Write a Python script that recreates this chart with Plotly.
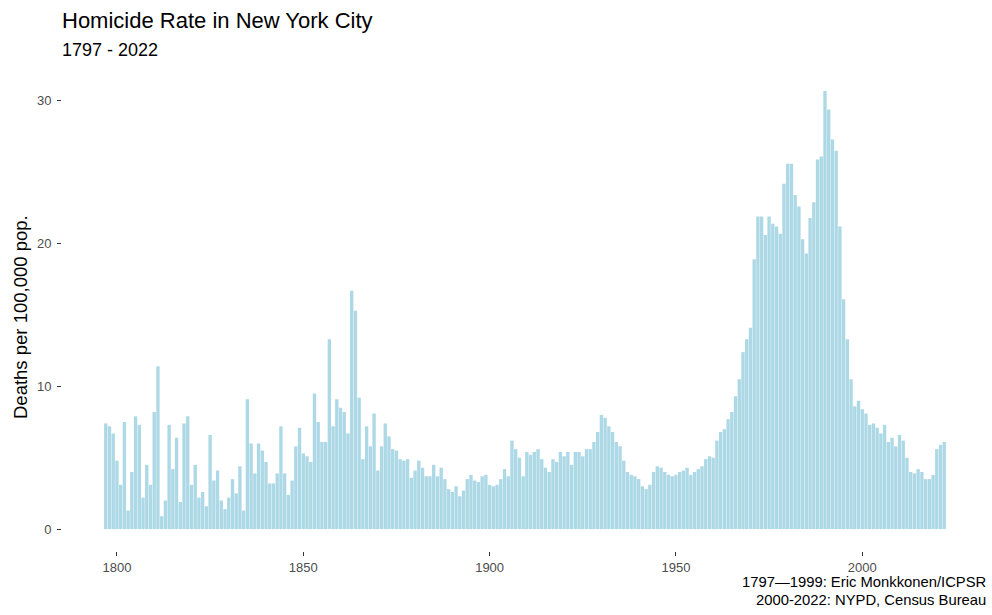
import plotly.graph_objects as go

# Homicide rate per 100,000 population, New York City
# 1797-1999: Eric Monkkonen/ICPSR
rate_1797_1899 = [
    7.4, 7.2, 6.7,
    4.8, 3.1, 7.5, 1.3, 4.0, 7.9, 7.3, 2.2, 4.5, 3.1,
    8.2, 11.4, 0.9, 2.0, 7.3, 4.2, 6.4, 1.9, 7.4, 7.9,
    3.1, 4.5, 2.2, 2.6, 1.6, 6.6, 3.4, 4.1, 2.0, 1.4,
    2.2, 3.5, 2.5, 4.4, 1.3, 9.1, 6.0, 3.9, 6.0, 5.5,
    4.7, 3.2, 3.2, 3.9, 7.2, 3.9, 2.4, 3.4, 5.8, 7.1,
    5.3, 5.1, 4.7, 9.5, 7.5, 6.1, 6.1, 13.3, 7.2, 9.1,
    8.5, 8.2, 6.7, 16.7, 15.3, 9.2, 4.9, 7.2, 5.8, 8.1,
    4.1, 5.8, 7.4, 6.5, 5.6, 5.5, 4.9, 4.8, 4.9, 3.6,
    4.1, 4.8, 4.3, 3.7, 3.7, 4.5, 3.7, 4.3, 3.5, 2.8,
    2.6, 3.0, 2.3, 2.7, 3.5, 3.8, 3.4, 3.3, 3.7, 3.8,
]
rate_1900_1999 = [
    3.1, 3.0, 3.1, 3.5, 4.2, 3.7, 6.2, 5.6, 5.0, 3.7,
    5.4, 5.2, 5.4, 5.6, 4.9, 4.3, 4.0, 4.9, 4.7, 5.4,
    5.1, 5.4, 4.5, 5.4, 5.4, 5.1, 5.6, 5.6, 6.1, 6.8,
    8.0, 7.8, 7.2, 6.8, 6.1, 5.8, 4.8, 4.0, 3.8, 3.7,
    3.5, 3.0, 2.8, 3.1, 4.0, 4.4, 4.3, 4.0, 3.8, 3.7,
    3.8, 4.0, 4.1, 4.3, 3.8, 4.0, 4.2, 4.4, 4.9, 5.1,
    5.0, 6.2, 6.8, 7.0, 7.7, 8.2, 9.3, 10.5, 12.4, 13.3,
    14.1, 18.9, 21.9, 21.9, 20.6, 21.9, 21.4, 21.2, 20.7, 24.2,
    25.6, 25.6, 23.4, 22.6, 20.3, 19.3, 21.8, 22.9, 25.9, 26.1,
    30.7, 29.4, 27.3, 26.5, 21.2, 16.1, 13.3, 10.5, 8.6, 9.0,
]
# 2000-2022: NYPD, Census Bureau
rate_2000_2022 = [
    8.4, 8.1, 7.3, 7.4, 7.1, 6.7, 7.3, 6.1, 6.4, 5.8,
    6.6, 6.2, 5.0, 4.0, 3.9, 4.2, 4.0, 3.5, 3.5, 3.8,
    5.6, 5.9, 6.1,
]
first_year = 1797
rates = rate_1797_1899 + rate_1900_1999 + rate_2000_2022
years = list(range(first_year, first_year + len(rates)))

x_ticks = [1800, 1850, 1900, 1950, 2000]
y_ticks = [0, 10, 20, 30]

title_text = "Homicide Rate in New York City"
subtitle_text = "1797 - 2022"
y_title = "Deaths per 100,000 pop."
caption_line1 = "1797\u20141999: Eric Monkkonen/ICPSR"
caption_line2 = "2000-2022: NYPD, Census Bureau"

W, H = 992, 615
ML, MR, MT, MB = 62, 4, 69, 64
pw = W - ML - MR
ph = H - MT - MB


def py(y):
    return (H - MB - y) / ph


def px(x):
    return (x - ML) / pw


# ggplot-like ranges with 5% expansion
xlo, xhi = min(years) - 0.45, max(years) + 0.45
xpad = (xhi - xlo) * 0.05
ymax = max(rates)
ypad = ymax * 0.05

FONT = "Liberation Sans, Arial, Helvetica, sans-serif"
TICK_FONT = dict(size=13, color="#4D4D4D", family=FONT)

fig = go.Figure(
    go.Bar(
        x=years,
        y=rates,
        width=0.9,
        marker=dict(color="#ADD8E6", line=dict(width=0)),
        hovertemplate="%{x}: %{y}<extra></extra>",
    )
)

axis_common = dict(
    ticks="outside",
    ticklen=4,
    tickwidth=1,
    tickcolor="#333333",
    tickfont=TICK_FONT,
    showgrid=False,
    zeroline=False,
    showline=False,
)

fig.update_layout(
    width=W,
    height=H,
    margin=dict(l=ML, r=MR, t=MT, b=MB, pad=0),
    paper_bgcolor="white",
    plot_bgcolor="white",
    showlegend=False,
    font=dict(family=FONT, color="#000000"),
    xaxis=dict(
        range=[xlo - xpad, xhi + xpad],
        tickvals=x_ticks,
        ticktext=[str(v) for v in x_ticks],
        **axis_common,
    ),
    yaxis=dict(
        range=[-ypad, ymax + ypad],
        tickvals=y_ticks,
        ticktext=[str(v) for v in y_ticks],
        ticklabelstandoff=3,
        **axis_common,
    ),
    annotations=[
        dict(text=title_text, xref="paper", yref="paper", x=px(60), y=py(21),
             xanchor="left", yanchor="middle", showarrow=False,
             font=dict(size=22, color="#000000", family=FONT)),
        dict(text=subtitle_text, xref="paper", yref="paper", x=px(60), y=py(50),
             xanchor="left", yanchor="middle", showarrow=False,
             font=dict(size=18, color="#000000", family=FONT)),
        dict(text=y_title, xref="paper", yref="paper", x=px(20), y=py(317),
             xanchor="center", yanchor="middle", textangle=-90, showarrow=False,
             font=dict(size=18.5, color="#000000", family=FONT)),
        dict(text=caption_line1, xref="paper", yref="paper", x=1, y=py(582),
             xanchor="right", yanchor="middle", showarrow=False,
             font=dict(size=14.8, color="#000000", family=FONT)),
        dict(text=caption_line2, xref="paper", yref="paper", x=1, y=py(600),
             xanchor="right", yanchor="middle", showarrow=False,
             font=dict(size=14.8, color="#000000", family=FONT)),
    ],
)

fig.write_html(
    "out.html",
    config={"displayModeBar": False},
    post_script="document.body.style.margin='0';document.body.style.padding='0';"
                "document.body.style.overflow='hidden';",
)
